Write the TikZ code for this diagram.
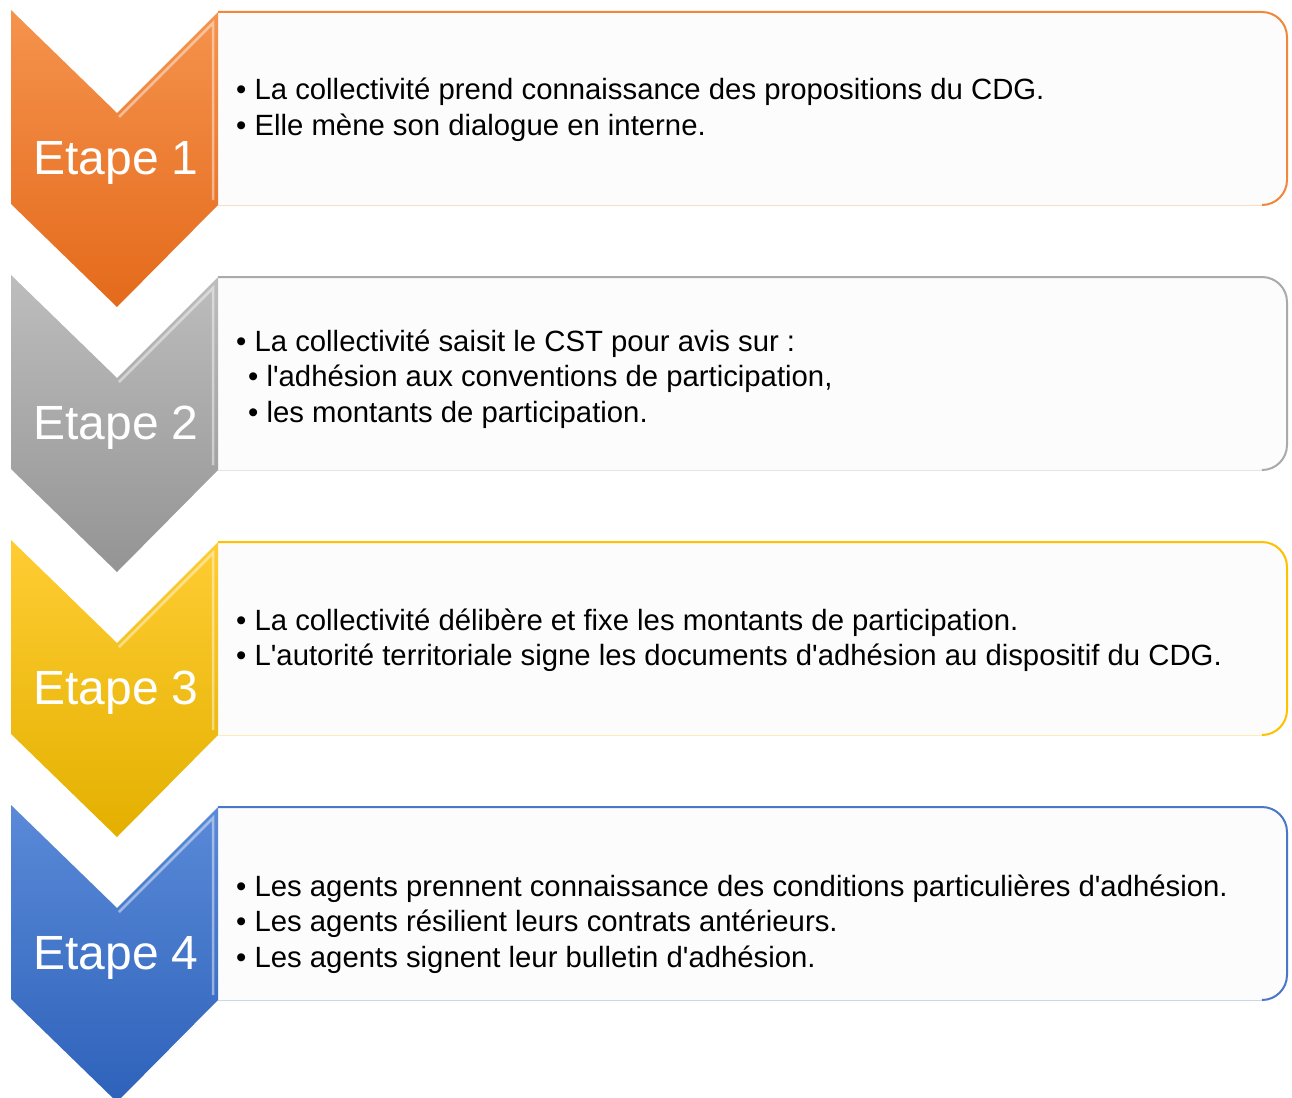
\documentclass[tikz,border=0pt]{standalone}
\usepackage{fontspec}
\setmainfont{Liberation Sans}
\usepackage{tikz}

\definecolor{e1top}{HTML}{F5934D}
\definecolor{e1bot}{HTML}{E46A1B}
\definecolor{e1line}{HTML}{F0873A}
\definecolor{e2top}{HTML}{BDBDBD}
\definecolor{e2bot}{HTML}{949494}
\definecolor{e2line}{HTML}{AAAAAA}
\definecolor{e3top}{HTML}{FFCD33}
\definecolor{e3bot}{HTML}{E3B000}
\definecolor{e3line}{HTML}{FFC000}
\definecolor{e4top}{HTML}{5A8AD8}
\definecolor{e4bot}{HTML}{2E62BA}
\definecolor{e4line}{HTML}{4A78C8}
\definecolor{boxfill}{HTML}{FCFCFC}

\newcommand{\puce}{\textbullet\ }
\newcommand{\apo}{\textquotesingle}

\begin{document}
\begin{tikzpicture}[
    x=1pt, y=-1pt,
    etape/.style={text=white, font=\fontsize{48}{56}\selectfont, inner sep=0pt, anchor=base},
    puces/.style={font=\fontsize{29.3}{35.5}\selectfont, align=left, inner sep=0pt, anchor=west}
]
    \useasboundingbox (0,0) rectangle (1292,1097);

    % Boxes and chevrons
    \foreach \n in {1,...,4} {
        \pgfmathsetmacro{\t}{10+265*(\n-1)}
        \fill[boxfill] (218,\t+2) -- (1262,\t+2) arc(90:0:25pt) -- (1287,\t+170)
            arc(0:-90:25pt) -- (218,\t+195) -- cycle;
        \draw[e\n line, line width=2pt] (218,\t+2) -- (1262,\t+2) arc(90:0:25pt) -- (1287,\t+170)
            arc(0:-90:25pt);
        \draw[e\n line!30, line width=1pt] (1262,\t+195) -- (218,\t+195);
        \shade[top color=e\n top, bottom color=e\n bot]
            (11,\t) -- (117,\t+103) -- (218,\t+2) -- (218,\t+195) -- (117,\t+297) -- (11,\t+194) -- cycle;
        \draw[white, opacity=0.45, line width=2.5pt] (119,\t+107) -- (213,\t+13) -- (213,\t+190);
        \node[etape] (etape\n) at (116,\t+164) {Etape \n};
    }

    % Etape 1
    \node[puces] (texte1) at (236,110) {\puce La collectivité prend connaissance des propositions du CDG.\\
        \puce Elle mène son dialogue en interne.};

    % Etape 2
    \node[puces] (texte2) at (236,379) {\puce La collectivité saisit le CST pour avis sur :\\
        \hspace{12pt}\puce l\apo adhésion aux conventions de participation,\\
        \hspace{12pt}\puce les montants de participation.};

    % Etape 3
    \node[puces] (texte3) at (236,640) {\puce La collectivité délibère et fixe les montants de participation.\\
        \puce L\apo autorité territoriale signe les documents d\apo adhésion au dispositif du CDG.};

    % Etape 4
    \node[puces] (texte4) at (236,924) {\puce Les agents prennent connaissance des conditions particulières d\apo adhésion.\\
        \puce Les agents résilient leurs contrats antérieurs.\\
        \puce Les agents signent leur bulletin d\apo adhésion.};

\end{tikzpicture}
\end{document}
